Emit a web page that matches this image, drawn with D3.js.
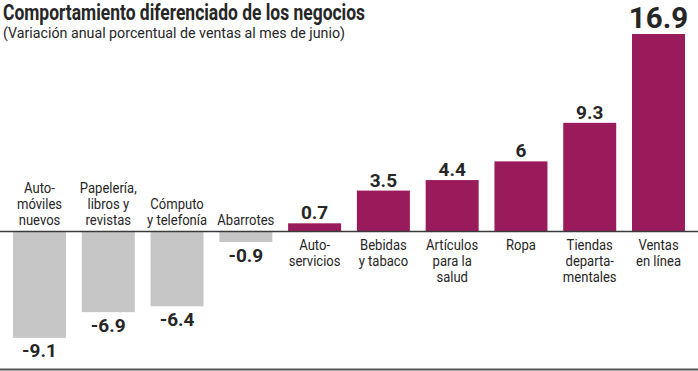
<!DOCTYPE html>
<html>
<head>
<meta charset="utf-8">
<script src="https://cdn.jsdelivr.net/npm/d3@7"></script>
<style>
  body { margin: 0; background: #fff; }
  svg { display: block; }
</style>
</head>
<body>
<svg id="chart" width="698" height="371"></svg>
<script>
// data
const categories = [
    ["Auto-", "móviles", "nuevos"],
    ["Papelería,", "libros y", "revistas"],
    ["Cómputo", "y telefonía"],
    ["Abarrotes"],
    ["Auto-", "servicios"],
    ["Bebidas", "y tabaco"],
    ["Artículos", "para la", "salud"],
    ["Ropa"],
    ["Tiendas", "departa-", "mentales"],
    ["Ventas", "en línea"]
];
const values = [-9.1, -6.9, -6.4, -0.9, 0.7, 3.5, 4.4, 6, 9.3, 16.9];
const valueLabels = ["-9.1", "-6.9", "-6.4", "-0.9", "0.7", "3.5", "4.4", "6", "9.3", "16.9"];

const title = "Comportamiento diferenciado de los negocios";
const subtitle = "(Variación anual porcentual de ventas al mes de junio)";

const purple = "#9a1b5c",
    gray = "#c6c6c6",
    ink = "#262626";

const svg = d3.select("#chart"),
    W = 698;

const idx = values.map((d, i) => i);

const x = d3.scaleBand()
    .domain(idx)
    .range([13, 685])
    .paddingInner(0.2294)
    .paddingOuter(0);

const y = d3.scaleLinear()
    .domain([0, 16.9])
    .range([231.5, 34]);

// titles
svg.append("text")
    .attr("x", 3).attr("y", 20)
    .attr("font-family", "Roboto, sans-serif")
    .attr("font-weight", 700)
    .attr("font-size", 21.5)
    .attr("fill", ink)
    .attr("textLength", 362)
    .attr("lengthAdjust", "spacingAndGlyphs")
    .text(title);

svg.append("text")
    .attr("x", 3).attr("y", 37.5)
    .attr("font-family", "Roboto, sans-serif")
    .attr("font-size", 15)
    .attr("fill", ink)
    .attr("textLength", 342)
    .attr("lengthAdjust", "spacingAndGlyphs")
    .text(subtitle);

// bars
svg.append("g").selectAll("rect")
    .data(idx)
    .join("rect")
    .attr("x", i => x(i))
    .attr("width", x.bandwidth())
    .attr("y", i => y(Math.max(0, values[i])))
    .attr("height", i => Math.abs(y(values[i]) - y(0)))
    .attr("fill", i => values[i] < 0 ? gray : purple);

// baseline and bottom rule
svg.append("line")
    .attr("x1", 0).attr("x2", W)
    .attr("y1", y(0)).attr("y2", y(0))
    .attr("stroke", "#3a3a3a").attr("stroke-width", 1.5);

svg.append("line")
    .attr("x1", 0).attr("x2", W)
    .attr("y1", 369.5).attr("y2", 369.5)
    .attr("stroke", "#555").attr("stroke-width", 2);

// value labels
svg.append("g").selectAll("text")
    .data(idx)
    .join("text")
    .attr("x", i => x(i) + x.bandwidth() / 2)
    .attr("y", i => values[i] < 0 ? y(values[i]) + 19.5 : y(values[i]) - (i === 9 ? 6 : 4))
    .attr("text-anchor", "middle")
    .attr("font-family", "Roboto, sans-serif")
    .attr("font-weight", 700)
    .attr("font-size", i => i === 9 ? 29.5 : 19)
    .attr("fill", ink)
    .text(i => valueLabels[i]);

// category labels
const lineH = 16.2;
const cat = svg.append("g").selectAll("g")
    .data(idx)
    .join("g")
    .attr("transform", i => {
        const cx = x(i) + x.bandwidth() / 2;
        const n = categories[i].length;
        const y0 = values[i] < 0 ? 225 - (n - 1) * lineH : 250;
        return `translate(${cx},${y0}) scale(0.87,1)`;
    });

cat.append("text")
    .attr("text-anchor", "middle")
    .attr("font-family", "Roboto, sans-serif")
    .attr("font-size", 15)
    .attr("fill", ink)
    .selectAll("tspan")
    .data(i => categories[i])
    .join("tspan")
    .attr("x", 0)
    .attr("y", (d, k) => k * lineH)
    .text(d => d);
</script>
</body>
</html>
